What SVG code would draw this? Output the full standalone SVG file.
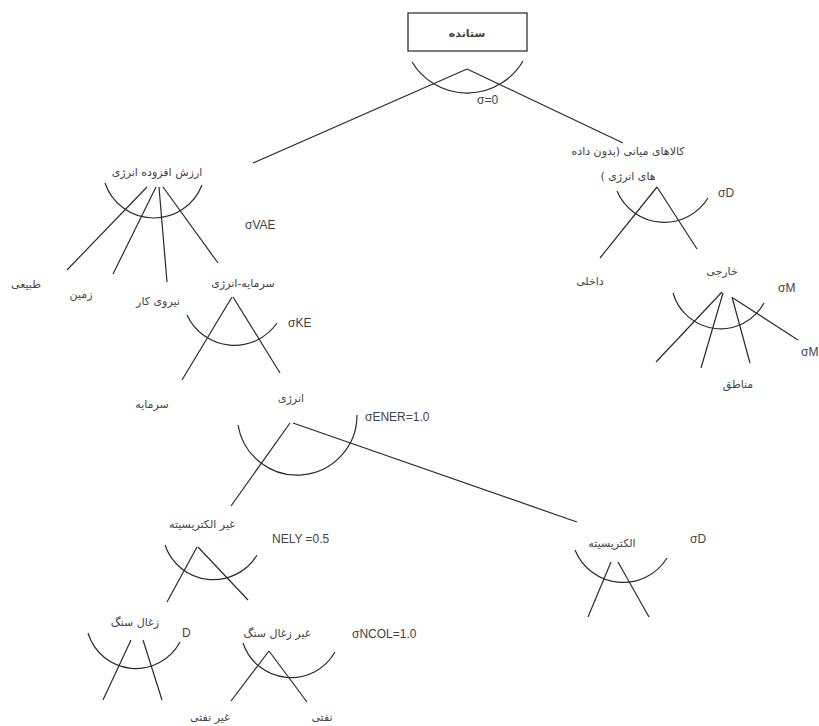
<svg xmlns="http://www.w3.org/2000/svg" width="819" height="726" viewBox="0 0 819 726">
<style>
.ln{stroke:#2b2b2b;stroke-width:1.2;fill:none}
.fa{font-family:"DejaVu Sans","Noto Sans",sans-serif;font-size:11px;fill:#444;text-anchor:middle;direction:rtl}
.la{font-family:"Liberation Sans",Arial,sans-serif;font-size:12px;fill:#444}
</style>
<rect width="819" height="726" fill="#fff"/>
<g id="n-output">
<rect x="408" y="13" width="119" height="38" fill="#fff" stroke="#333" stroke-width="1.3"/>
<text class="fa" x="467" y="37" style="font-weight:bold">ستانده</text>
<path class="ln" d="M412,62 A64.6,64.6 0 0 0 523,61"/>
<text class="la" x="477" y="104">σ=0</text>
</g>
<g id="n-vae">
<text class="fa" x="157" y="176">ارزش افزوده انرژی</text>
<path class="ln" d="M105,183 A51.6,51.6 0 0 0 202,185"/>
<text class="la" x="245" y="229">σVAE</text>
</g>
<g id="n-intermediate">
<text class="fa" x="628" y="155">کالاهای میانی (بدون داده</text>
<text class="fa" x="628" y="180">های انرژی )</text>
<path class="ln" d="M617,191 A51.4,51.4 0 0 0 708,198"/>
<text class="la" x="718" y="197">σD</text>
</g>
<g id="n-natural"><text class="fa" x="26" y="288">طبیعی</text></g>
<g id="n-land"><text class="fa" x="81" y="298">زمین</text></g>
<g id="n-labor"><text class="fa" x="158" y="305">نیروی کار</text></g>
<g id="n-ke">
<text class="fa" x="243" y="287">سرمایه-انرژی</text>
<path class="ln" d="M187,315 A52,52 0 0 0 277,323"/>
<text class="la" x="288" y="327">σKE</text>
</g>
<g id="n-domestic"><text class="fa" x="590" y="285">داخلی</text></g>
<g id="n-foreign">
<text class="fa" x="722" y="275">خارجی</text>
<path class="ln" d="M673,293 A49.5,49.5 0 0 0 764,303"/>
<text class="la" x="778" y="292">σM</text>
<text class="la" x="801" y="356">σM</text>
</g>
<g id="n-regions"><text class="fa" x="738" y="388">مناطق</text></g>
<g id="n-capital"><text class="fa" x="152" y="408">سرمایه</text></g>
<g id="n-energy">
<text class="fa" x="291" y="402">انرژی</text>
<path class="ln" d="M238,425 A59.9,59.9 0 0 0 357,415"/>
<text class="la" x="365" y="421">σENER=1.0</text>
</g>
<g id="n-nonelec">
<text class="fa" x="202" y="528">غیر الکتریسیته</text>
<path class="ln" d="M165,545 A51,51 0 0 0 257,555"/>
<text class="la" x="272" y="543">NELY =0.5</text>
</g>
<g id="n-elec">
<text class="fa" x="612" y="547">الکتریسیته</text>
<path class="ln" d="M575,550 A51.8,51.8 0 0 0 667,558"/>
<text class="la" x="690" y="543">σD</text>
</g>
<g id="n-coal">
<text class="fa" x="135" y="626">زغال سنگ</text>
<path class="ln" d="M88,633 A50,50 0 0 0 180,642"/>
<text class="la" x="182" y="637">D</text>
</g>
<g id="n-noncoal">
<text class="fa" x="277" y="637">غیر زغال سنگ</text>
<path class="ln" d="M243,643 A50.6,50.6 0 0 0 335,652"/>
<text class="la" x="352" y="638">σNCOL=1.0</text>
</g>
<g id="n-nonoil"><text class="fa" x="210" y="721">غیر نفتی</text></g>
<g id="n-oil"><text class="fa" x="322" y="721">نفتی</text></g>
<g id="connectors" class="ln">
<line x1="467" y1="69" x2="253" y2="163"/>
<line x1="467" y1="69" x2="623" y2="143"/>
<line x1="147" y1="187" x2="67" y2="270"/>
<line x1="156" y1="187" x2="113" y2="274"/>
<line x1="159" y1="187" x2="167" y2="282"/>
<line x1="163" y1="187" x2="218" y2="263"/>
<line x1="657" y1="187" x2="600" y2="258"/>
<line x1="657" y1="187" x2="697" y2="249"/>
<line x1="722" y1="292" x2="656" y2="362"/>
<line x1="723" y1="293" x2="701" y2="368"/>
<line x1="732" y1="297" x2="750" y2="363"/>
<line x1="733" y1="298" x2="798" y2="340"/>
<line x1="232" y1="297" x2="182" y2="380"/>
<line x1="233" y1="297" x2="280" y2="373"/>
<line x1="290" y1="423" x2="231" y2="506"/>
<line x1="293" y1="423" x2="577" y2="522"/>
<line x1="197" y1="547" x2="167" y2="602"/>
<line x1="198" y1="547" x2="248" y2="600"/>
<line x1="611" y1="562" x2="588" y2="617"/>
<line x1="618" y1="562" x2="649" y2="617"/>
<line x1="131" y1="640" x2="103" y2="700"/>
<line x1="143" y1="640" x2="162" y2="700"/>
<line x1="269" y1="651" x2="231" y2="701"/>
<line x1="269" y1="651" x2="307" y2="702"/>
</g>
</svg>
